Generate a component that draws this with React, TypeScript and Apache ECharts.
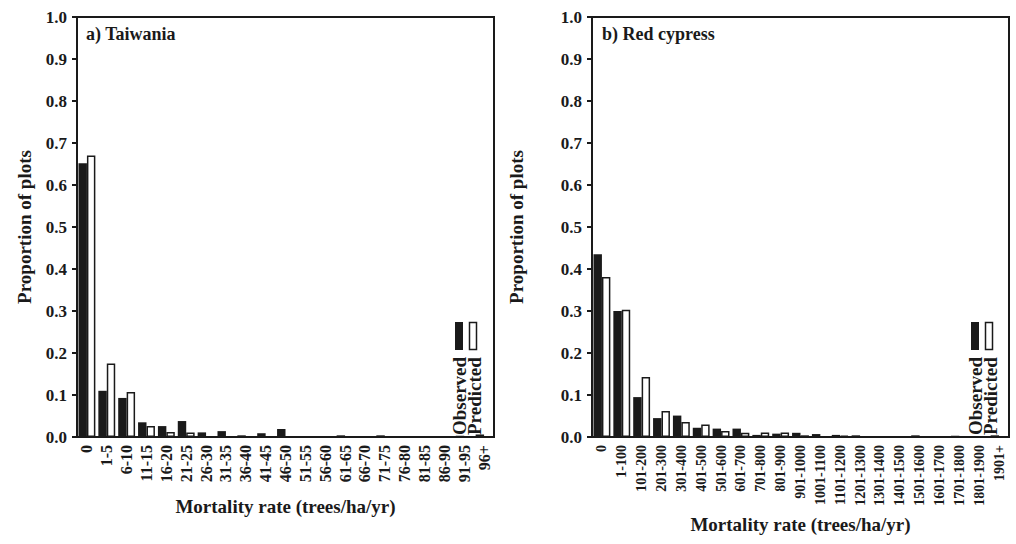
import React, { useEffect, useRef } from "react";
import * as echarts from "echarts";

const catsA = ["0", "1-5", "6-10", "11-15", "16-20", "21-25", "26-30", "31-35", "36-40", "41-45", "46-50", "51-55", "56-60", "61-65", "66-70", "71-75", "76-80", "81-85", "86-90", "91-95", "96+"];
const obsA = [0.652, 0.110, 0.093, 0.035, 0.026, 0.038, 0.011, 0.014, 0.004, 0.009, 0.019, 0, 0, 0.004, 0, 0.004, 0, 0, 0, 0.003, 0.006];
const predA = [0.670, 0.175, 0.107, 0.026, 0.012, 0.011, 0, 0, 0, 0, 0, 0, 0, 0, 0, 0, 0, 0, 0, 0, 0];

const catsB = ["0", "1-100", "101-200", "201-300", "301-400", "401-500", "501-600", "601-700", "701-800", "801-900", "901-1000", "1001-1100", "1101-1200", "1201-1300", "1301-1400", "1401-1500", "1501-1600", "1601-1700", "1701-1800", "1801-1900", "1901+"];
const obsB = [0.435, 0.300, 0.095, 0.045, 0.051, 0.022, 0.020, 0.020, 0.005, 0.008, 0.010, 0.007, 0.005, 0.004, 0, 0, 0.004, 0, 0.003, 0, 0.004];
const predB = [0.381, 0.303, 0.143, 0.062, 0.036, 0.030, 0.014, 0.010, 0.011, 0.011, 0.004, 0, 0.003, 0, 0, 0, 0, 0, 0, 0, 0];

const yTicks = [0, 0.1, 0.2, 0.3, 0.4, 0.5, 0.6, 0.7, 0.8, 0.9, 1.0];

const FONT = '"Liberation Serif", "Times New Roman", serif';
const INK = "#1a1a1a";

function toData(arr: number[]) {
  return arr.map((v) => (v === 0 ? "-" : v));
}

export default function App() {
  const ref = useRef<HTMLDivElement>(null);
  useEffect(() => {
    if (!ref.current) return;
    const chart = echarts.init(ref.current, undefined, { renderer: "svg" });

    const grids = [
      { left: 77, top: 17, width: 417, height: 420 },
      { left: 592, top: 17, width: 417, height: 420 },
    ];

    const xAxisCommon = (gridIndex: number, data: string[], nameGap: number, labelSize: number) => ({
      type: "category",
      gridIndex,
      data,
      name: "Mortality rate (trees/ha/yr)",
      nameLocation: "middle",
      nameGap,
      nameTextStyle: { fontFamily: FONT, fontWeight: "bold", fontSize: 19, color: INK },
      axisLine: { show: true, lineStyle: { color: INK, width: 2 } },
      axisTick: { show: false },
      axisLabel: {
        interval: 0,
        rotate: 90,
        margin: 8,
        fontFamily: FONT,
        fontWeight: "bold",
        fontSize: labelSize,
        color: INK,
      },
      splitLine: { show: false },
    });

    const yAxisCommon = (gridIndex: number, nameGap: number) => ({
      type: "value",
      gridIndex,
      min: yTicks[0],
      max: yTicks[yTicks.length - 1],
      interval: 0.1,
      name: "Proportion of plots",
      nameLocation: "middle",
      nameGap,
      nameTextStyle: { fontFamily: FONT, fontWeight: "bold", fontSize: 19, color: INK },
      axisLine: { show: true, lineStyle: { color: INK, width: 2 } },
      axisTick: { show: true, inside: false, length: 5, lineStyle: { color: INK, width: 2 } },
      axisLabel: {
        margin: 10,
        fontFamily: FONT,
        fontWeight: "bold",
        fontSize: 17,
        color: INK,
        formatter: (v: number) => v.toFixed(1),
      },
      splitLine: { show: false },
    });

    const obsStyle = { color: INK };
    const predStyle = { color: "#ffffff", borderColor: INK, borderWidth: 1.5 };

    const legendGraphic = (bx: number, tx: number) => [
      { type: "rect", shape: { x: bx, y: 322, width: 8, height: 28 }, style: { fill: INK } },
      { type: "rect", shape: { x: bx + 14.5, y: 322.5, width: 7, height: 27 }, style: { fill: "#fff", stroke: INK, lineWidth: 1.5 } },
      {
        type: "text",
        x: tx,
        y: 435,
        rotation: Math.PI / 2,
        style: { text: "Observed", font: `bold 19px ${FONT}`, fill: INK, align: "left", verticalAlign: "middle" },
      },
      {
        type: "text",
        x: tx + 15,
        y: 435,
        rotation: Math.PI / 2,
        style: { text: "Predicted", font: `bold 19px ${FONT}`, fill: INK, align: "left", verticalAlign: "middle" },
      },
    ];

    chart.setOption({
      animation: false,
      backgroundColor: "#ffffff",
      grid: grids.map((g) => ({ ...g, show: true, borderColor: INK, borderWidth: 2, backgroundColor: "transparent" })),
      xAxis: [xAxisCommon(0, catsA, 60, 16), xAxisCommon(1, catsB, 78, 14)],
      yAxis: [yAxisCommon(0, 43), yAxisCommon(1, 66)],
      series: [
        { type: "bar", name: "Observed", xAxisIndex: 0, yAxisIndex: 0, data: toData(obsA), itemStyle: obsStyle, barGap: "0%", barCategoryGap: "15%" },
        { type: "bar", name: "Predicted", xAxisIndex: 0, yAxisIndex: 0, data: toData(predA), itemStyle: predStyle, barGap: "0%", barCategoryGap: "15%" },
        { type: "bar", name: "Observed", xAxisIndex: 1, yAxisIndex: 1, data: toData(obsB), itemStyle: obsStyle, barGap: "0%", barCategoryGap: "15%" },
        { type: "bar", name: "Predicted", xAxisIndex: 1, yAxisIndex: 1, data: toData(predB), itemStyle: predStyle, barGap: "0%", barCategoryGap: "15%" },
      ],
      graphic: [
        { type: "text", x: 86, y: 34, style: { text: "a) Taiwania", font: `bold 18px ${FONT}`, fill: INK, align: "left", verticalAlign: "middle" } },
        { type: "text", x: 602, y: 34, style: { text: "b) Red cypress", font: `bold 18px ${FONT}`, fill: INK, align: "left", verticalAlign: "middle" } },
        ...legendGraphic(455, 459),
        ...legendGraphic(971, 975),
      ],
    });
    return () => chart.dispose();
  }, []);

  return <div ref={ref} style={{ position: "absolute", left: 0, top: 0, width: 1016, height: 544 }} />;
}
